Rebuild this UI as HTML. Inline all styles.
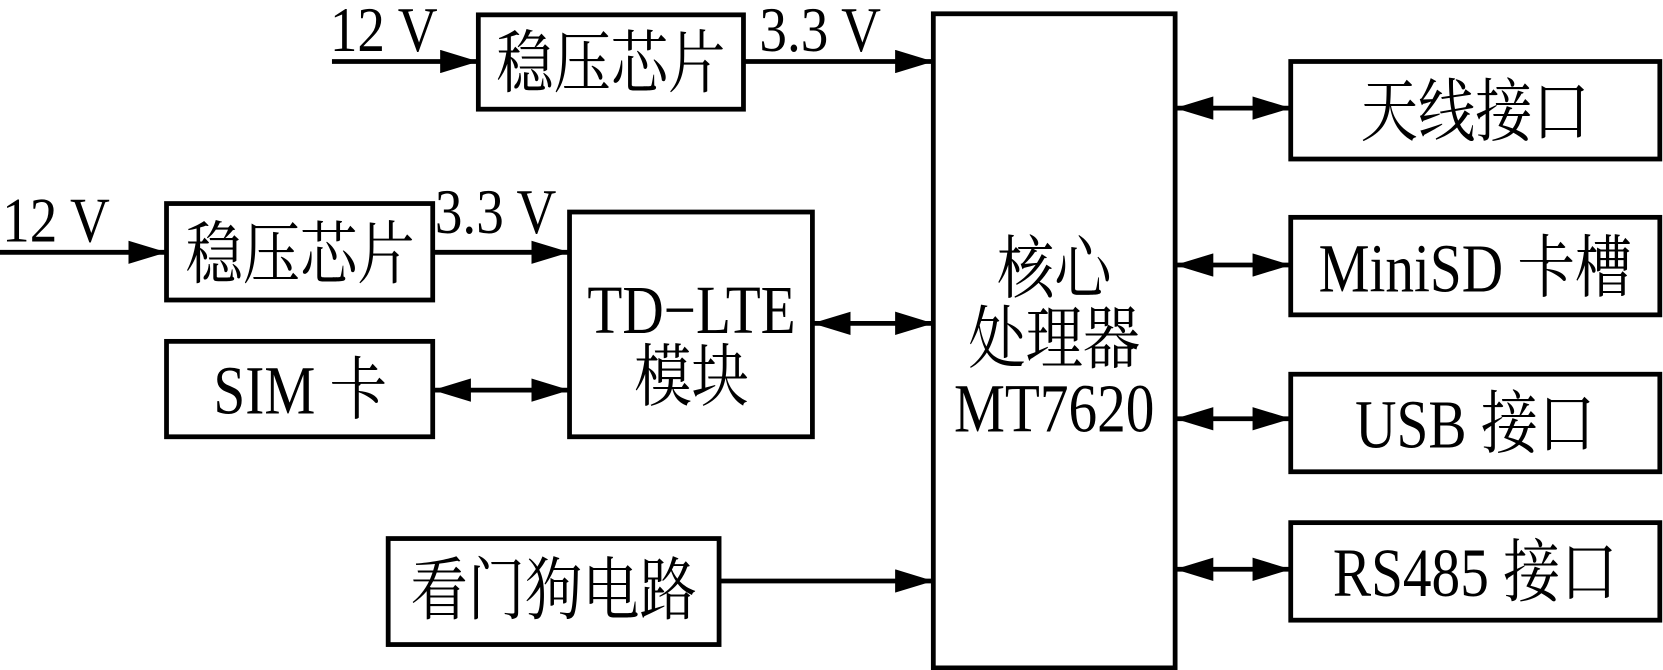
<!DOCTYPE html>
<html><head><meta charset="utf-8">
<style>
html,body{margin:0;padding:0;background:#fff;}
svg{display:block;}
text{font-family:"Liberation Serif","Noto Serif CJK SC",serif;fill:#000;}
</style></head>
<body>
<svg width="1663" height="670" viewBox="0 0 1568 632" preserveAspectRatio="none" xmlns="http://www.w3.org/2000/svg">
<defs>
<marker id="a" markerWidth="36" markerHeight="22" refX="36" refY="11" orient="auto" markerUnits="userSpaceOnUse">
<path d="M0,0 L36,11 L0,22 Z" fill="#000"/>
</marker>
<marker id="b" markerWidth="36" markerHeight="22" refX="0" refY="11" orient="auto" markerUnits="userSpaceOnUse">
<path d="M36,0 L0,11 L36,22 Z" fill="#000"/>
</marker>
</defs>
<g fill="none" stroke="#000" stroke-width="4.5">
<rect x="451" y="14" width="250" height="89"/>
<rect x="880" y="13" width="228" height="617"/>
<rect x="1217" y="58" width="348" height="92"/>
<rect x="1217" y="205" width="348" height="92"/>
<rect x="1217" y="353" width="348" height="92"/>
<rect x="1217" y="493" width="348" height="92"/>
<rect x="157" y="192" width="251" height="91"/>
<rect x="537" y="200" width="229" height="212"/>
<rect x="157" y="322" width="251" height="90"/>
<rect x="366" y="508" width="312" height="100"/>
</g>
<g stroke="#000" stroke-width="4.5">
<line x1="313" y1="58" x2="451" y2="58" marker-end="url(#a)"/>
<line x1="701" y1="58" x2="880" y2="58" marker-end="url(#a)"/>
<line x1="0" y1="238" x2="157" y2="238" marker-end="url(#a)"/>
<line x1="408" y1="238" x2="537" y2="238" marker-end="url(#a)"/>
<line x1="766" y1="305" x2="880" y2="305" marker-start="url(#b)" marker-end="url(#a)"/>
<line x1="408" y1="368" x2="537" y2="368" marker-start="url(#b)" marker-end="url(#a)"/>
<line x1="678" y1="548" x2="880" y2="548" marker-end="url(#a)"/>
<line x1="1108" y1="102" x2="1217" y2="102" marker-start="url(#b)" marker-end="url(#a)"/>
<line x1="1108" y1="250" x2="1217" y2="250" marker-start="url(#b)" marker-end="url(#a)"/>
<line x1="1108" y1="395" x2="1217" y2="395" marker-start="url(#b)" marker-end="url(#a)"/>
<line x1="1108" y1="537" x2="1217" y2="537" marker-start="url(#b)" marker-end="url(#a)"/>
</g>
<g font-size="52">
<text transform="translate(311,48) scale(1,1.15)">12 V</text>
<text transform="translate(716,48) scale(1,1.15)">3.3 V</text>
<text transform="translate(2,228) scale(1,1.15)">12 V</text>
<text transform="translate(410,220) scale(1,1.15)">3.3 V</text>
</g>
<g font-size="54" text-anchor="middle">
<text transform="translate(576,82) scale(1,1.2)">稳压芯片</text>
<text transform="translate(283,262) scale(1,1.2)">稳压芯片</text>
<text transform="translate(652,314) scale(1,1.2)">TD−LTE</text>
<text transform="translate(652,378) scale(1,1.2)">模块</text>
<text transform="translate(283,390) scale(1,1.2)">SIM 卡</text>
<text transform="translate(522,579) scale(1,1.2)">看门狗电路</text>
<text transform="translate(994,276) scale(1,1.2)">核心</text>
<text transform="translate(994,342) scale(1,1.2)">处理器</text>
<text transform="translate(994,407) scale(1,1.2)">MT7620</text>
<text transform="translate(1391,128) scale(1,1.2)">天线接口</text>
<text transform="translate(1391,275) scale(1,1.2)">MiniSD 卡槽</text>
<text transform="translate(1391,422) scale(1,1.2)">USB 接口</text>
<text transform="translate(1391,562) scale(1,1.2)">RS485 接口</text>
</g>
</svg>
</body></html>
